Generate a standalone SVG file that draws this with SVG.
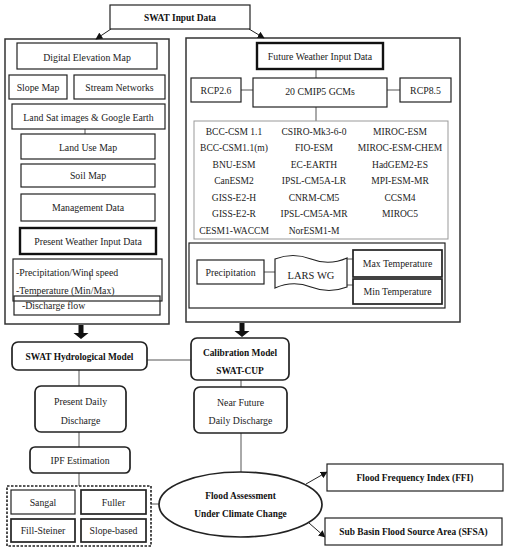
<svg xmlns="http://www.w3.org/2000/svg" width="508" height="550" viewBox="0 0 508 550">
<defs>
<marker id="ah" viewBox="0 0 10 10" refX="9" refY="5" markerWidth="7" markerHeight="7" orient="auto" markerUnits="userSpaceOnUse"><path d="M0,0 L10,5 L0,10 z" fill="#111"/></marker>
<style>
text{font-family:"Liberation Serif","Times New Roman",serif;font-size:9.8px;fill:#222;text-anchor:middle}
.b{font-weight:bold;font-size:9.4px;fill:#111}
.g{font-size:9.5px}
.l{text-anchor:start}
.bx{fill:#fff;stroke:#222;stroke-width:1.2}
.tk{fill:#fff;stroke:#111;stroke-width:2.4}
.md{fill:#fff;stroke:#222;stroke-width:1.7}
.big{fill:none;stroke:#333;stroke-width:1.5}
.gr{fill:#fff;stroke:#999;stroke-width:1}
.ln{stroke:#555;stroke-width:1;fill:none}
.ar{stroke:#222;stroke-width:1;fill:none;marker-end:url(#ah)}
.fa{fill:#111}
</style>
</defs>
<rect width="508" height="550" fill="#fff"/>

<g id="left-panel"><rect class="big" x="5" y="39" width="164" height="285"/></g>
<g id="right-panel"><rect class="big" x="186" y="38" width="274" height="284"/></g>

<g id="connectors">
<line class="ar" x1="111" y1="29" x2="96" y2="39"/>
<line class="ar" x1="249" y1="29" x2="264" y2="38"/>
<line class="ln" x1="38" y1="64" x2="38" y2="69"/>
<line class="ln" x1="113" y1="64" x2="113" y2="69"/>
<line class="ln" x1="85" y1="129" x2="85" y2="134"/>
<line class="ln" x1="83" y1="249" x2="83" y2="254"/>
<line class="ln" x1="90" y1="273" x2="90" y2="280"/>
<line class="ln" x1="316" y1="69" x2="316" y2="78"/>
<line class="ln" x1="241" y1="90" x2="253" y2="90"/>
<line class="ln" x1="387" y1="90" x2="400" y2="90"/>
<line class="ln" x1="316" y1="107" x2="316" y2="121"/>
<line class="ln" x1="264" y1="272" x2="276" y2="272"/>
<line class="ln" x1="346" y1="259" x2="353" y2="259"/>
<line class="ln" x1="346" y1="285" x2="353" y2="285"/>
<path class="fa" d="M78.5,325 h5 v8 h5 l-7.5,6 l-7.5,-6 h5 z"/>
<path class="fa" d="M239.5,323 h5 v8 h5 l-7.5,6 l-7.5,-6 h5 z"/>
<line class="ln" x1="147" y1="360" x2="191" y2="360"/>
<line class="ln" x1="79" y1="370" x2="79" y2="386"/>
<line class="ln" x1="79" y1="432" x2="79" y2="447"/>
<line class="ln" x1="79" y1="473" x2="79" y2="486"/>
<line class="ln" x1="241" y1="380" x2="241" y2="387"/>
<line class="ln" x1="241" y1="433" x2="241" y2="472"/>
<line class="ln" x1="151" y1="504" x2="159" y2="504"/>
<line class="ar" x1="306" y1="484" x2="327" y2="472"/>
<line class="ar" x1="309" y1="523" x2="325" y2="537"/>
</g>

<g id="swat-input"><rect class="bx" x="110" y="5" width="140" height="24"/><text class="b" x="180" y="21">SWAT Input Data</text></g>

<g id="dem"><rect class="bx" x="17" y="43" width="140" height="26"/><text x="87" y="61">Digital Elevation Map</text></g>
<g id="slope"><rect class="bx" x="9" y="75" width="58" height="24"/><text x="38" y="91">Slope Map</text></g>
<g id="stream"><rect class="bx" x="74" y="75" width="91" height="24"/><text x="119.5" y="91">Stream Networks</text></g>
<g id="landsat"><rect class="bx" x="12" y="104" width="153" height="25"/><text x="88.5" y="121">Land Sat images &amp; Google Earth</text></g>
<g id="landuse"><rect class="bx" x="21" y="134" width="134" height="25"/><text x="88" y="151">Land Use Map</text></g>
<g id="soil"><rect class="bx" x="21" y="164" width="134" height="23"/><text x="88" y="179">Soil Map</text></g>
<g id="mgmt"><rect class="bx" x="21" y="194" width="134" height="27"/><text x="88" y="211">Management Data</text></g>
<g id="present-weather"><rect class="tk" x="20" y="228" width="136" height="26"/><text x="88" y="245">Present Weather Input Data</text></g>
<g id="weather-vars"><rect class="bx" fill="none" x="13" y="259" width="149" height="42" style="fill:none"/><text class="l" x="16" y="276">-Precipitation/Wind speed</text><text class="l" x="16" y="294">-Temperature (Min/Max)</text></g>
<g id="discharge-flow"><rect class="bx" x="14" y="296" width="146" height="19" style="fill:none"/><text class="l" x="22" y="309">-Discharge flow</text></g>

<g id="future-weather"><rect class="tk" x="257" y="43" width="126" height="26"/><text x="320" y="60">Future Weather Input Data</text></g>
<g id="cmip5"><rect class="bx" x="253" y="78" width="134" height="29"/><text x="320" y="95">20 CMIP5 GCMs</text></g>
<g id="rcp26"><rect class="bx" x="191" y="78" width="50" height="24"/><text x="216" y="94">RCP2.6</text></g>
<g id="rcp85"><rect class="bx" x="400" y="78" width="51" height="24"/><text x="425.5" y="94">RCP8.5</text></g>

<g id="gcm-list"><rect class="gr" x="194" y="121" width="254" height="118"/>
<text class="g" x="234" y="134.5">BCC-CSM 1.1</text><text class="g" x="314" y="134.5">CSIRO-Mk3-6-0</text><text class="g" x="400" y="134.5">MIROC-ESM</text>
<text class="g" x="234" y="151">BCC-CSM1.1(m)</text><text class="g" x="314" y="151">FIO-ESM</text><text class="g" x="400" y="151">MIROC-ESM-CHEM</text>
<text class="g" x="234" y="167.5">BNU-ESM</text><text class="g" x="314" y="167.5">EC-EARTH</text><text class="g" x="400" y="167.5">HadGEM2-ES</text>
<text class="g" x="234" y="184">CanESM2</text><text class="g" x="314" y="184">IPSL-CM5A-LR</text><text class="g" x="400" y="184">MPI-ESM-MR</text>
<text class="g" x="234" y="200.5">GISS-E2-H</text><text class="g" x="314" y="200.5">CNRM-CM5</text><text class="g" x="400" y="200.5">CCSM4</text>
<text class="g" x="234" y="217">GISS-E2-R</text><text class="g" x="314" y="217">IPSL-CM5A-MR</text><text class="g" x="400" y="217">MIROC5</text>
<text class="g" x="234" y="233.5">CESM1-WACCM</text><text class="g" x="314" y="233.5">NorESM1-M</text>
</g>

<g id="lars-panel"><rect class="bx" x="189" y="243" width="256" height="65" style="fill:none"/></g>
<g id="precip"><rect class="bx" x="197" y="260" width="67" height="24"/><text x="230.5" y="275.5">Precipitation</text></g>
<g id="lars"><path class="bx" d="M275,259 Q293,252 311,259 T347,258 L347,287 Q329,294 311,287 T275,288 Z"/><text x="311" y="279" style="font-size:10.5px">LARS WG</text></g>
<g id="max-temp"><rect class="md" x="353" y="250" width="89" height="27"/><text x="397.5" y="266.5">Max Temperature</text></g>
<g id="min-temp"><rect class="md" x="353" y="279" width="89" height="25"/><text x="397.5" y="295">Min Temperature</text></g>

<g id="swat-model"><rect class="md" x="12" y="342" width="135" height="28" rx="6"/><text class="b" x="79.5" y="360">SWAT Hydrological Model</text></g>
<g id="calibration"><rect class="md" x="191" y="338" width="98" height="42" rx="6"/><text class="b" x="240" y="356">Calibration Model</text><text class="b" x="240" y="374">SWAT-CUP</text></g>
<g id="present-discharge"><rect class="md" x="35" y="386" width="91" height="46" rx="6"/><text x="80.5" y="405">Present Daily</text><text x="80.5" y="424">Discharge</text></g>
<g id="near-future"><rect class="md" x="194" y="387" width="93" height="46" rx="6"/><text x="240.5" y="406">Near Future</text><text x="240.5" y="424">Daily Discharge</text></g>
<g id="ipf"><rect class="md" x="30" y="447" width="100" height="26" rx="5"/><text x="80" y="464">IPF Estimation</text></g>

<g id="methods"><rect x="7" y="486" width="144" height="60" fill="none" stroke="#222" stroke-width="1.6" stroke-dasharray="2.5,1.5"/></g>
<g id="sangal"><rect class="bx" x="11" y="490" width="64" height="24"/><text x="43" y="505.5">Sangal</text></g>
<g id="fuller"><rect class="md" x="81" y="490" width="65" height="24"/><text x="113.5" y="505.5">Fuller</text></g>
<g id="fill-steiner"><rect class="md" x="11" y="519" width="64" height="23"/><text x="43" y="534">Fill-Steiner</text></g>
<g id="slope-based"><rect class="md" x="81" y="519" width="65" height="23"/><text x="113.5" y="534">Slope-based</text></g>

<g id="flood-assessment"><ellipse class="md" cx="240.5" cy="504.5" rx="81.5" ry="32.5"/><text class="b" x="240.5" y="499">Flood Assessment</text><text class="b" x="240.5" y="516.5">Under Climate Change</text></g>
<g id="ffi"><rect class="bx" x="327" y="464" width="176" height="27"/><text class="b" x="415" y="481">Flood Frequency Index (FFI)</text></g>
<g id="sfsa"><rect class="bx" x="325" y="518" width="177" height="27"/><text class="b" x="413.5" y="535">Sub Basin Flood Source Area (SFSA)</text></g>
</svg>
